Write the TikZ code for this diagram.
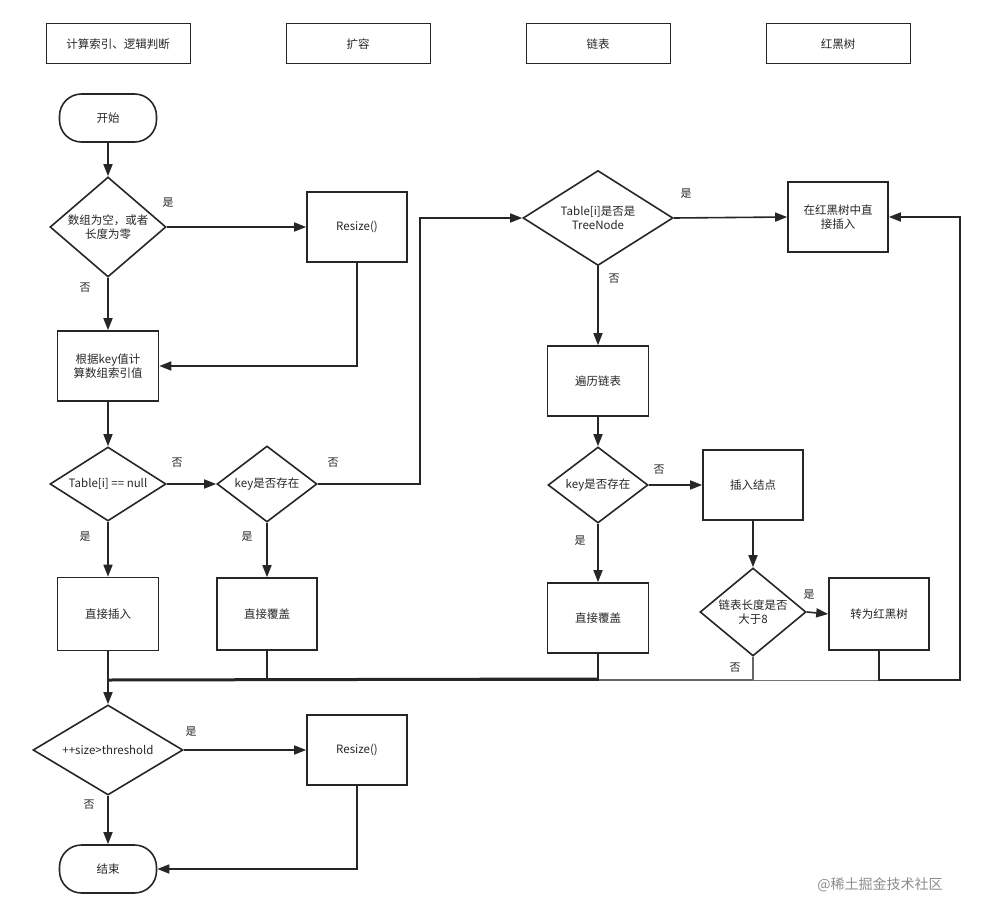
\documentclass[tikz,border=0pt]{standalone}
\usepackage{fontspec}
\setmainfont{Noto Sans CJK SC}
\usetikzlibrary{shapes.geometric,arrows.meta}
\begin{document}
\begin{tikzpicture}[x=1pt,y=-1pt,
  every node/.style={font=\fontsize{11.5}{14}\selectfont,text=black!85},
  box/.style={draw=black!85,line width=1.6pt,minimum width=101pt,minimum height=70pt,align=center,text width=80pt},
  hdr/.style={draw=black!85,line width=1pt,minimum width=144pt,minimum height=40pt},
  term/.style={draw=black!85,line width=1.6pt,rounded corners=22pt,minimum width=97pt,minimum height=48pt},
  dia/.style={draw=black!85,line width=1.6pt,diamond,aspect=#1,inner sep=0pt,align=center},
  lbl/.style={font=\fontsize{11}{13}\selectfont},
  ar/.style={draw=black!85,line width=1.6pt,-{Triangle[length=12pt,width=9pt]}},
  ln/.style={draw=black!85,line width=1.6pt}]
\useasboundingbox (0,0) rectangle (984,920);
\node[hdr] (h1) at (118,44) {计算索引、逻辑判断};
\node[hdr] (h2) at (358,44) {扩容};
\node[hdr] (h3) at (598,44) {链表};
\node[hdr] (h4) at (838,44) {红黑树};
\node[term] (start) at (108,118) {开始};
\node[dia=1.16,minimum width=116pt,minimum height=100pt] (d1) at (108,227) {数组为空，或者\\长度为零};
\node[box,minimum width=100pt] (r1) at (357,227) {Resize()};
\node[box] (idx) at (108,366) {根据key值计\\算数组索引值};
\node[dia=1.57,minimum width=116pt,minimum height=74pt] (tn) at (108,484) {Table[i] == null};
\node[dia=1.32,minimum width=100pt,minimum height=76pt] (k1) at (267,484) {key是否存在};
\node[box,minimum height=73pt] (ins) at (108,614) {直接插入};
\node[box,minimum width=100pt,minimum height=72pt] (cov1) at (267,614) {直接覆盖};
\node[dia=1.58,minimum width=150pt,minimum height=95pt] (tr) at (598,218) {Table[i]是否是\\TreeNode};
\node[box,minimum width=100pt] (rbi) at (838,217) {在红黑树中直\\接插入};
\node[box] (trav) at (598,381) {遍历链表};
\node[dia=1.32,minimum width=100pt,minimum height=76pt] (k2) at (598,485) {key是否存在};
\node[box,minimum width=100pt] (node) at (753,485) {插入结点};
\node[box] (cov2) at (598,618) {直接覆盖};
\node[dia=1.2,minimum width=106pt,minimum height=88pt] (len) at (753,612) {链表长度是否\\大于8};
\node[box,minimum width=100pt,minimum height=72pt] (conv) at (879,614) {转为红黑树};
\node[dia=1.67,minimum width=150pt,minimum height=90pt] (sz) at (108,750) {++size>threshold};
\node[box,minimum width=100pt] (r2) at (357,750) {Resize()};
\node[term] (end) at (108,869) {结束};
\coordinate (j) at (108,680);
\coordinate (rr) at (960,680);
\draw[ar] (start) -- (d1);
\draw[ar] (d1.east) -- (r1.west);
\node[lbl] at (168,203) {是};
\draw[ar] (d1) -- (idx);
\node[lbl] at (85,288) {否};
\draw[ar] (r1.south) |- (idx.east);
\draw[ar] (idx) -- (tn);
\draw[ar] (tn.east) -- (k1.west);
\node[lbl] at (177,463) {否};
\draw[ar] (k1.east) -- (420,484) |- (tr.west);
\node[lbl] at (333,463) {否};
\draw[ar] (tn) -- (ins);
\node[lbl] at (85,537) {是};
\draw[ar] (k1) -- (cov1);
\node[lbl] at (247,537) {是};
\draw[ar] (tr.east) -- (rbi.west);
\node[lbl] at (686,194) {是};
\draw[ar] (tr) -- (trav);
\node[lbl] at (614,279) {否};
\draw[ar] (trav) -- (k2);
\draw[ar] (k2.east) -- (node.west);
\node[lbl] at (659,470) {否};
\draw[ar] (k2) -- (cov2);
\node[lbl] at (580,541) {是};
\draw[ar] (node) -- (len);
\draw[ar] (len.east) -- (conv.west);
\node[lbl] at (809,595) {是};
\draw[ln,line width=1.2pt,black!60] (len.south) |- (j);
\node[lbl] at (735,668) {否};
\draw[ln] (cov1.south) |- (j);
\draw[ln] (cov2.south) |- (j);
\draw[ln,line width=3pt] (598,679) -- (j);
\draw[ln,line width=1pt,black!55] (conv.south) |- (753,680);
\draw[ar] (conv.south) |- (rr) |- (rbi.east);
\draw[ar] (ins) -- (sz);
\draw[ar] (sz.east) -- (r2.west);
\node[lbl] at (191,732) {是};
\draw[ar] (sz) -- (end);
\node[lbl] at (89,805) {否};
\draw[ar] (r2.south) |- (end.east);
\node[font=\fontsize{14}{16}\selectfont,text=black!45] at (880,885) {@稀土掘金技术社区};
\end{tikzpicture}
\end{document}
